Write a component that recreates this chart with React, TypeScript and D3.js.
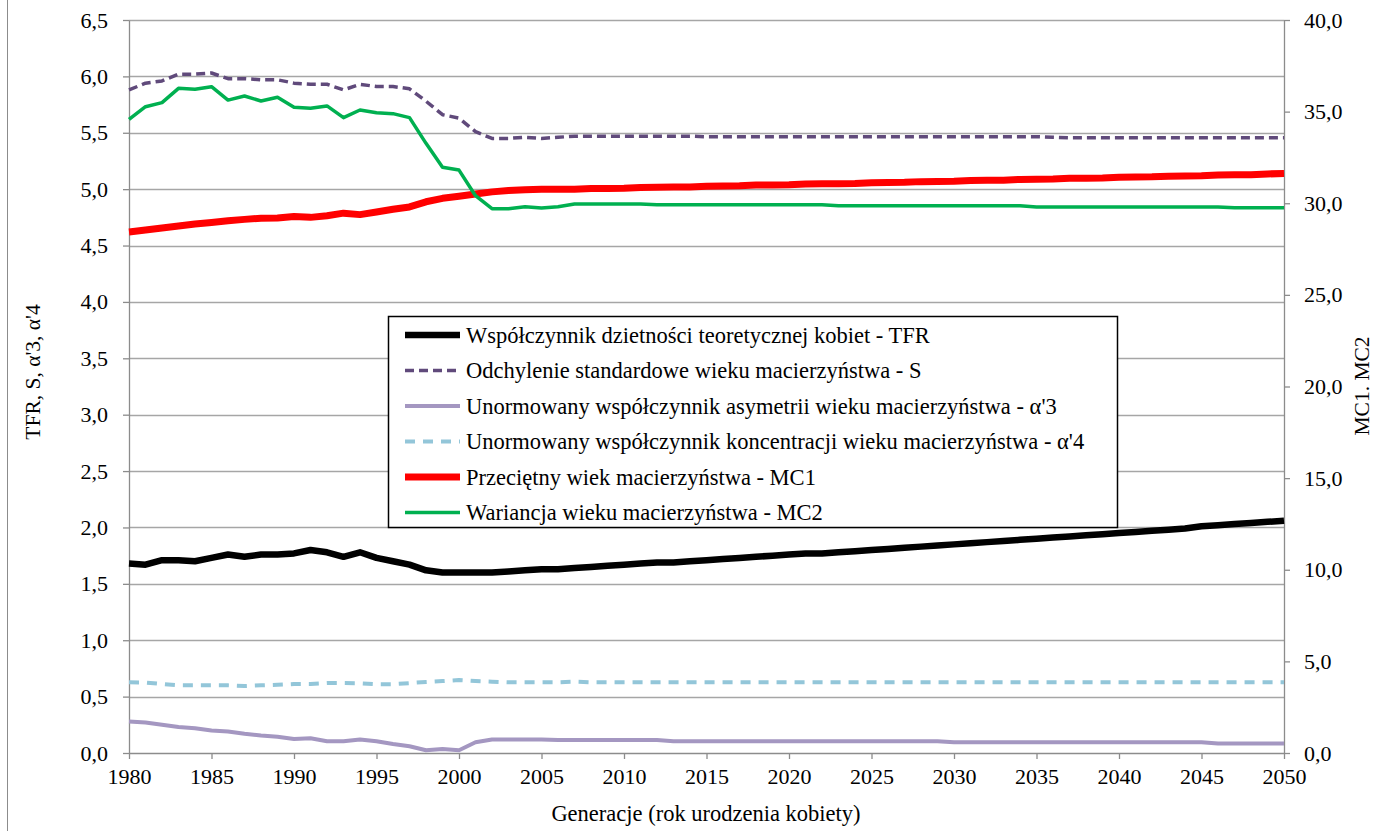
import React, { useRef, useEffect } from 'react';
import * as d3 from 'd3';

const startYear = 1980;

// TFR, S, α'3, α'4 (left axis)
const tfr = [
  1.68, 1.67, 1.71, 1.71, 1.70, 1.73, 1.76, 1.74, 1.76, 1.76,
  1.77, 1.80, 1.78, 1.74, 1.78, 1.73, 1.70, 1.67, 1.62, 1.60,
  1.60, 1.60, 1.60, 1.61, 1.62, 1.63, 1.63, 1.64, 1.65, 1.66,
  1.67, 1.68, 1.69, 1.69, 1.70, 1.71, 1.72, 1.73, 1.74, 1.75,
  1.76, 1.77, 1.77, 1.78, 1.79, 1.80, 1.81, 1.82, 1.83, 1.84,
  1.85, 1.86, 1.87, 1.88, 1.89, 1.90, 1.91, 1.92, 1.93, 1.94,
  1.95, 1.96, 1.97, 1.98, 1.99, 2.01, 2.02, 2.03, 2.04, 2.05,
  2.06,
];
const sDev = [
  5.88, 5.94, 5.96, 6.02, 6.02, 6.03, 5.98, 5.98, 5.97, 5.97,
  5.94, 5.93, 5.93, 5.88, 5.93, 5.91, 5.91, 5.89, 5.78, 5.66,
  5.63, 5.51, 5.45, 5.45, 5.46, 5.45, 5.46, 5.47, 5.47, 5.47,
  5.47, 5.47, 5.47, 5.47, 5.47, 5.465, 5.465, 5.465, 5.465, 5.465,
  5.465, 5.465, 5.465, 5.465, 5.465, 5.465, 5.465, 5.465, 5.465, 5.465,
  5.465, 5.465, 5.465, 5.465, 5.465, 5.465, 5.46, 5.455, 5.455, 5.455,
  5.455, 5.455, 5.455, 5.455, 5.455, 5.455, 5.455, 5.455, 5.455, 5.455,
  5.455,
];
const alpha3 = [
  0.28, 0.27, 0.25, 0.23, 0.22, 0.20, 0.19, 0.17, 0.155, 0.145,
  0.125, 0.13, 0.105, 0.105, 0.12, 0.105, 0.08, 0.06, 0.025, 0.035,
  0.025, 0.095, 0.12, 0.12, 0.12, 0.12, 0.115, 0.115, 0.115, 0.115,
  0.115, 0.115, 0.115, 0.105, 0.105, 0.105, 0.105, 0.105, 0.105, 0.105,
  0.105, 0.105, 0.105, 0.105, 0.105, 0.105, 0.105, 0.105, 0.105, 0.105,
  0.095, 0.095, 0.095, 0.095, 0.095, 0.095, 0.095, 0.095, 0.095, 0.095,
  0.095, 0.095, 0.095, 0.095, 0.095, 0.095, 0.085, 0.085, 0.085, 0.085,
  0.085,
];
const alpha4 = [
  0.627, 0.625, 0.612, 0.60, 0.60, 0.60, 0.60, 0.594, 0.60, 0.605,
  0.612, 0.612, 0.62, 0.62, 0.618, 0.61, 0.61, 0.62, 0.63, 0.638,
  0.647, 0.638, 0.632, 0.627, 0.627, 0.627, 0.627, 0.632, 0.627, 0.627,
  0.627, 0.627, 0.627, 0.627, 0.627, 0.627, 0.627, 0.627, 0.627, 0.627,
  0.627, 0.627, 0.627, 0.627, 0.627, 0.627, 0.627, 0.627, 0.627, 0.627,
  0.627, 0.627, 0.627, 0.627, 0.627, 0.627, 0.627, 0.627, 0.627, 0.627,
  0.627, 0.627, 0.627, 0.627, 0.627, 0.627, 0.627, 0.627, 0.627, 0.627,
  0.627,
];

// MC1, MC2 (right axis)
const mc1 = [
  28.43, 28.54, 28.65, 28.76, 28.87, 28.95, 29.04, 29.12, 29.18, 29.19,
  29.28, 29.23, 29.32, 29.46, 29.38, 29.52, 29.67, 29.80, 30.08, 30.27,
  30.38, 30.50, 30.62, 30.70, 30.74, 30.76, 30.76, 30.77, 30.80, 30.81,
  30.82, 30.86, 30.87, 30.88, 30.89, 30.93, 30.94, 30.95, 30.99, 31.00,
  31.01, 31.05, 31.06, 31.07, 31.08, 31.12, 31.13, 31.14, 31.18, 31.19,
  31.20, 31.24, 31.25, 31.26, 31.30, 31.31, 31.32, 31.36, 31.37, 31.38,
  31.42, 31.43, 31.44, 31.48, 31.49, 31.50, 31.54, 31.55, 31.56, 31.60,
  31.62,
];
const mc2 = [
  34.58, 35.27, 35.49, 36.27, 36.22, 36.36, 35.63, 35.85, 35.58, 35.78,
  35.24, 35.18, 35.31, 34.67, 35.09, 34.94, 34.89, 34.67, 33.27, 31.96,
  31.81, 30.41, 29.70, 29.70, 29.81, 29.74, 29.81, 29.96, 29.96, 29.96,
  29.96, 29.96, 29.92, 29.92, 29.92, 29.92, 29.92, 29.92, 29.92, 29.92,
  29.92, 29.92, 29.92, 29.86, 29.86, 29.86, 29.86, 29.86, 29.86, 29.86,
  29.86, 29.86, 29.86, 29.86, 29.86, 29.80, 29.80, 29.80, 29.80, 29.80,
  29.80, 29.80, 29.80, 29.80, 29.80, 29.80, 29.80, 29.75, 29.75, 29.75,
  29.75,
];

const legendLabels = [
  'Współczynnik dzietności teoretycznej kobiet - TFR',
  'Odchylenie standardowe wieku macierzyństwa - S',
  "Unormowany współczynnik asymetrii wieku macierzyństwa - α'3",
  "Unormowany współczynnik koncentracji wieku macierzyństwa - α'4",
  'Przeciętny wiek macierzyństwa - MC1',
  'Wariancja wieku macierzyństwa - MC2',
];

const FONT = 'Liberation Serif';

const App: React.FC = () => {
  const svgRef = useRef<SVGSVGElement>(null);

  useEffect(() => {
    if (!svgRef.current) return;
    const width = 1394;
    const height = 831;

    d3.select(svgRef.current).selectAll('*').remove();

    const svg = d3.select(svgRef.current)
      .attr('width', width)
      .attr('height', height)
      .attr('font-family', FONT)
      .style('background', '#fff');

    const left = 129, right = 1284, top = 20, bottom = 753;

    const x = d3.scaleLinear().domain([1980, 2050]).range([left, right]);
    const yL = d3.scaleLinear().domain([0, 6.5]).range([bottom, top]);
    const yR = d3.scaleLinear().domain([0, 40]).range([bottom, top]);

    const comma = (d: number) => d3.format('.1f')(d).replace('.', ',');
    const leftTicks = d3.range(0, 14).map(i => i * 0.5);
    const rightTicks = d3.range(0, 9).map(i => i * 5);

    // outer chart border (left edge visible)
    svg.append('line')
      .attr('x1', 7.5).attr('x2', 7.5).attr('y1', 0).attr('y2', height)
      .attr('stroke', '#8c8c8c').attr('stroke-width', 1);

    // gridlines
    svg.append('g')
      .selectAll('line')
      .data(leftTicks.filter(d => d > 0))
      .join('line')
      .attr('x1', left).attr('x2', right)
      .attr('y1', d => Math.round(yL(d)) + 0.5)
      .attr('y2', d => Math.round(yL(d)) + 0.5)
      .attr('stroke', '#a6a6a6').attr('stroke-width', 1.3);

    const styleAxis = (g: d3.Selection<SVGGElement, unknown, null, undefined>) => {
      g.attr('font-family', FONT).attr('font-size', 22);
      g.selectAll('path, line').attr('stroke', '#8c8c8c').attr('stroke-width', 1.3);
      g.selectAll('text').attr('font-family', FONT).attr('fill', '#000');
    };

    // left axis
    const gl = svg.append('g')
      .attr('transform', `translate(${left},0)`)
      .call(d3.axisLeft(yL).tickValues(leftTicks).tickFormat(d => comma(d as number)).tickSize(6).tickSizeOuter(0).tickPadding(15));
    styleAxis(gl);

    // right axis
    const gr = svg.append('g')
      .attr('transform', `translate(${right},0)`)
      .call(d3.axisRight(yR).tickValues(rightTicks).tickFormat(d => comma(d as number)).tickSize(6).tickSizeOuter(0).tickPadding(14));
    styleAxis(gr);

    // bottom axis
    const gb = svg.append('g')
      .attr('transform', `translate(0,${bottom})`)
      .call(d3.axisBottom(x).tickValues(d3.range(1980, 2051, 5)).tickFormat(d3.format('d')).tickSize(6).tickSizeOuter(0).tickPadding(9));
    styleAxis(gb);

    // axis titles
    svg.append('text')
      .attr('transform', `translate(40,372) rotate(-90)`)
      .attr('text-anchor', 'middle')
      .attr('font-family', FONT)
      .attr('font-size', 21.5)
      .text("TFR, S, α'3, α'4");
    svg.append('text')
      .attr('transform', `translate(1369,386) rotate(-90)`)
      .attr('text-anchor', 'middle')
      .attr('font-family', FONT)
      .attr('font-size', 21.5)
      .text('MC1. MC2');
    svg.append('text')
      .attr('x', 706).attr('y', 821)
      .attr('text-anchor', 'middle')
      .attr('font-family', FONT)
      .attr('font-size', 22.5)
      .text('Generacje (rok urodzenia kobiety)');

    const series = [
      { values: tfr, scale: yL, color: '#000000', width: 6.5, dash: null as string | null },
      { values: sDev, scale: yL, color: '#604a7b', width: 3.5, dash: '9,5' },
      { values: alpha3, scale: yL, color: '#a497c1', width: 4, dash: null },
      { values: alpha4, scale: yL, color: '#93c6d9', width: 4, dash: '10,8' },
      { values: mc1, scale: yR, color: '#ff0000', width: 7, dash: null },
      { values: mc2, scale: yR, color: '#00b050', width: 3.5, dash: null },
    ];

    series.forEach(s => {
      const line = d3.line<number>()
        .x((_, i) => x(startYear + i))
        .y(d => s.scale(d));
      svg.append('path')
        .datum(s.values)
        .attr('fill', 'none')
        .attr('stroke', s.color)
        .attr('stroke-width', s.width)
        .attr('stroke-linejoin', 'round')
        .attr('stroke-dasharray', s.dash)
        .attr('d', line);
    });

    // legend
    const lg = svg.append('g');
    lg.append('rect')
      .attr('x', 388.5).attr('y', 316.5)
      .attr('width', 729).attr('height', 211)
      .attr('fill', '#fff')
      .attr('stroke', '#000').attr('stroke-width', 1.5);

    const rowY = (i: number) => 335 + i * 35.5;
    series.forEach((s, i) => {
      lg.append('line')
        .attr('x1', 405).attr('x2', 460)
        .attr('y1', rowY(i)).attr('y2', rowY(i))
        .attr('stroke', s.color)
        .attr('stroke-width', s.width)
        .attr('stroke-dasharray', s.dash);
      lg.append('text')
        .attr('x', 466).attr('y', rowY(i))
        .attr('dy', '0.35em')
        .attr('font-family', FONT)
        .attr('font-size', 22.5)
        .text(legendLabels[i]);
    });
  }, []);

  return (
    <div style={{ position: 'absolute', left: 0, top: 0 }}>
      <svg ref={svgRef} />
    </div>
  );
};

export default App;
